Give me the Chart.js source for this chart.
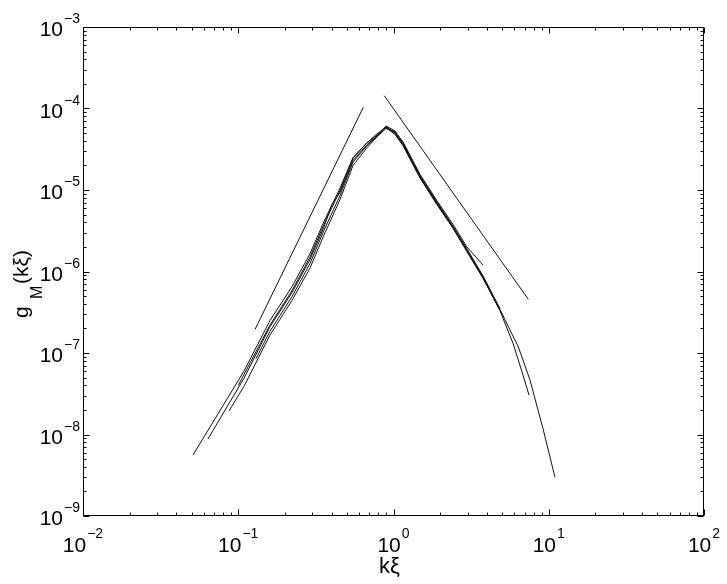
<!DOCTYPE html>
<html><head><meta charset="utf-8">
<script src="https://cdn.jsdelivr.net/npm/chart.js@4.4.1/dist/chart.umd.min.js"></script>
<style>html,body{margin:0;padding:0;background:#fff;overflow:hidden}</style>
</head><body>
<canvas id="c" width="727" height="584"></canvas>
<script>
// ---- tick labels / titles ----
const xTickValues = [0.01, 0.1, 1, 10, 100];
const xTickExponents = ['\u22122', '\u22121', '0', '1', '2'];
const yTickValues = [1e-9, 1e-8, 1e-7, 1e-6, 1e-5, 1e-4, 1e-3];
const yTickExponents = ['\u22129', '\u22128', '\u22127', '\u22126', '\u22125', '\u22124', '\u22123'];
const xTitle = 'k\u03BE';
const yTitleMain = 'g', yTitleSub = 'M', yTitleTail = '(k\u03BE)';

// ---- data series ----
const c1X = [0.0511, 0.1089, 0.1601, 0.2218, 0.2897, 0.3565, 0.4519, 0.5483, 0.6745, 0.7834, 0.8954, 1.023, 1.151, 1.483, 1.905, 2.415, 2.972, 3.776, 4.853, 6.368, 7.568, 9.226, 10.96];
const c1Y = [5.6e-9, 6.0e-8, 2.5e-7, 6.5e-7, 1.65e-6, 4.1e-6, 1.05e-5, 2.5e-5, 3.8e-5, 4.7e-5, 5.9e-5, 5.0e-5, 3.7e-5, 1.45e-5, 6.9e-6, 3.5e-6, 1.82e-6, 8.5e-7, 3.4e-7, 1.19e-7, 4.67e-8, 1.14e-8, 3.0e-9];

const c2X = [0.0638, 0.1089, 0.1601, 0.2218, 0.2897, 0.3565, 0.40, 0.4519, 0.5483, 0.6745, 0.7834, 0.8954, 1.023, 1.151, 1.483, 1.905, 2.415, 2.972, 3.776, 4.853, 5.9, 6.7, 7.46];
const c2Y = [8.8e-9, 4.9e-8, 2.1e-7, 5.5e-7, 1.4e-6, 3.5e-6, 6.6e-6, 9.3e-6, 2.3e-5, 3.6e-5, 4.6e-5, 6.0e-5, 5.0e-5, 3.6e-5, 1.42e-5, 6.8e-6, 3.45e-6, 1.8e-6, 8.4e-7, 3.3e-7, 1.3e-7, 6.0e-8, 3.05e-8];

const c3X = [0.0871, 0.1089, 0.1601, 0.2218, 0.2897, 0.3565, 0.4519, 0.5483, 0.6745, 0.7834, 0.8954, 1.023, 1.151, 1.483, 1.905, 2.415, 2.972, 3.776];
const c3Y = [1.94e-8, 3.9e-8, 1.66e-7, 4.4e-7, 1.1e-6, 2.8e-6, 7.6e-6, 2.0e-5, 3.3e-5, 4.5e-5, 5.7e-5, 5.2e-5, 3.9e-5, 1.55e-5, 7.4e-6, 3.8e-6, 2.0e-6, 1.2e-6];

const c4X = [0.1, 0.1601, 0.2218, 0.2897, 0.3565, 0.4519, 0.5483, 0.6745, 0.7834, 0.8954, 1.023, 1.151, 1.483, 1.905, 2.415, 2.972, 3.776, 5.1];
const c4Y = [4.0e-8, 2.2e-7, 5.8e-7, 1.5e-6, 3.8e-6, 9.8e-6, 2.45e-5, 3.8e-5, 4.9e-5, 5.8e-5, 4.8e-5, 3.5e-5, 1.40e-5, 6.6e-6, 3.4e-6, 1.75e-6, 8.2e-7, 2.8e-7];

const c5X = [0.13, 0.1601, 0.2218, 0.2897, 0.3565, 0.4519, 0.5483, 0.6745, 0.7834, 0.8954, 1.023, 1.151, 1.483, 1.905, 2.415, 2.972, 3.776, 4.853];
const c5Y = [8.5e-8, 1.85e-7, 4.9e-7, 1.25e-6, 3.2e-6, 8.5e-6, 2.2e-5, 3.5e-5, 4.6e-5, 6.1e-5, 5.3e-5, 3.8e-5, 1.5e-5, 7.1e-6, 3.6e-6, 1.9e-6, 8.8e-7, 3.5e-7];

const guideLeftX = [0.1283, 0.639];
const guideLeftY = [1.95e-7, 1.035e-4];
const guideRightX = [0.872, 7.38];
const guideRightY = [1.435e-4, 4.56e-7];

// ---- build chart ----
const pts = (xs, ys) => xs.map((v, i) => ({x: v, y: ys[i]}));
const series = [[c1X, c1Y], [c2X, c2Y], [c3X, c3Y], [c4X, c4Y], [c5X, c5Y], [guideLeftX, guideLeftY], [guideRightX, guideRightY]];

const FONT = '"Liberation Sans", Arial, Helvetica, sans-serif';

const axesPlugin = {
  id: 'matlabAxes',
  afterDraw(chart) {
    const {ctx, chartArea: a, scales} = chart;
    const xs = scales.x, ys = scales.y;
    ctx.save();
    ctx.strokeStyle = '#000';
    ctx.lineWidth = 1;
    const L = Math.round(a.left) + 0.5, R = Math.round(a.right) - 0.5;
    const T = Math.round(a.top) + 0.5, B = Math.round(a.bottom) - 0.5;
    ctx.strokeRect(L, T, R - L, B - T);
    ctx.beginPath();
    // x ticks
    xTickValues.forEach((v, i) => {
      const p = Math.round(xs.getPixelForValue(v)) + 0.5;
      ctx.moveTo(p, B); ctx.lineTo(p, B - 6);
      ctx.moveTo(p, T); ctx.lineTo(p, T + 6);
      if (i < xTickValues.length - 1) {
        for (let k = 2; k <= 9; k++) {
          const q = Math.round(xs.getPixelForValue(v * k)) + 0.5;
          ctx.moveTo(q, B); ctx.lineTo(q, B - 3);
          ctx.moveTo(q, T); ctx.lineTo(q, T + 3);
        }
      }
    });
    // y ticks
    yTickValues.forEach((v, i) => {
      const p = Math.round(ys.getPixelForValue(v)) + 0.5;
      ctx.moveTo(L, p); ctx.lineTo(L + 6, p);
      ctx.moveTo(R, p); ctx.lineTo(R - 6, p);
      if (i < yTickValues.length - 1) {
        for (let k = 2; k <= 9; k++) {
          const q = Math.round(ys.getPixelForValue(v * k)) + 0.5;
          ctx.moveTo(L, q); ctx.lineTo(L + 3, q);
          ctx.moveTo(R, q); ctx.lineTo(R - 3, q);
        }
      }
    });
    ctx.stroke();

    ctx.fillStyle = '#000';
    ctx.textAlign = 'left';
    ctx.textBaseline = 'alphabetic';
    const bigF = '21px ' + FONT, smallF = '14px ' + FONT;
    // x tick labels
    xTickValues.forEach((v, i) => {
      const p = xs.getPixelForValue(v);
      ctx.font = bigF; const w1 = ctx.measureText('10').width;
      ctx.font = smallF; const w2 = ctx.measureText(xTickExponents[i]).width;
      const s = p - (w1 + w2 + 1) / 2;
      ctx.font = bigF; ctx.fillText('10', s, a.bottom + 35.5);
      ctx.font = smallF; ctx.fillText(xTickExponents[i], s + w1 + 1, a.bottom + 22);
    });
    // y tick labels
    yTickValues.forEach((v, i) => {
      const p = ys.getPixelForValue(v);
      ctx.font = bigF; const w1 = ctx.measureText('10').width;
      ctx.font = smallF; const w2 = ctx.measureText(yTickExponents[i]).width;
      const ex = a.left - 3 - w2;
      ctx.font = smallF; ctx.fillText(yTickExponents[i], ex, p - 4);
      ctx.font = bigF; ctx.fillText('10', ex - 1 - w1, p + 9);
    });
    // x title
    ctx.font = '22px ' + FONT;
    ctx.textAlign = 'center';
    ctx.fillText(xTitle, (a.left + a.right) / 2 - 4, a.bottom + 57);
    // y title (rotated)
    ctx.save();
    ctx.translate(28, 0);
    ctx.rotate(-Math.PI / 2);
    ctx.textAlign = 'left';
    ctx.font = '21px ' + FONT;
    ctx.fillText(yTitleMain, -318, 0);
    ctx.font = '16px ' + FONT;
    ctx.fillText(yTitleSub, -299, 14);
    ctx.font = '21px ' + FONT;
    ctx.fillText(yTitleTail, -284, 0);
    ctx.restore();
    ctx.restore();
  }
};

new Chart(document.getElementById('c'), {
  type: 'scatter',
  data: {
    datasets: series.map(([xs, ys]) => ({
      data: pts(xs, ys),
      showLine: true,
      borderColor: '#111',
      borderWidth: 1,
      pointRadius: 0,
      fill: false,
      tension: 0
    }))
  },
  options: {
    responsive: false,
    animation: false,
    devicePixelRatio: 1,
    layout: {padding: {left: 83, right: 23, top: 27, bottom: 68}},
    plugins: {legend: {display: false}, tooltip: {enabled: false}, title: {display: false}},
    scales: {
      x: {type: 'logarithmic', min: 0.01, max: 100, display: false},
      y: {type: 'logarithmic', min: 1e-9, max: 1e-3, display: false}
    }
  },
  plugins: [axesPlugin, {
    id: 'bg', beforeDraw(c) { const g = c.ctx; g.save(); g.fillStyle = '#fff'; g.fillRect(0, 0, c.width, c.height); g.restore(); }
  }]
});
</script>
</body></html>
